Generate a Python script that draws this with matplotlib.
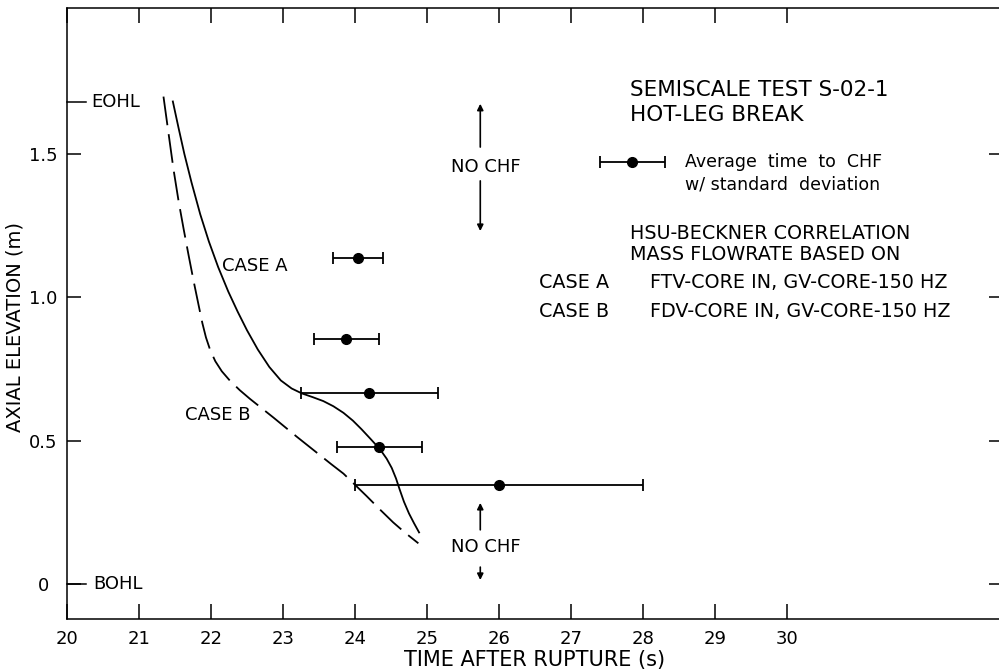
import matplotlib
matplotlib.use('Agg')
import matplotlib.pyplot as plt

plt.rcParams.update({
    'font.family': 'DejaVu Sans',
    'font.size': 13,
    'axes.linewidth': 1.1,
    'xtick.major.width': 1.1,
    'ytick.major.width': 1.1,
})

# ── Hsu-Beckner predictions (time after rupture, elevation) ──────────────
case_a_t = [21.47, 21.55, 21.63, 21.73, 21.85, 21.97, 22.10, 22.24, 22.37,
            22.50, 22.65, 22.81, 22.97, 23.12, 23.26, 23.41, 23.56, 23.70,
            23.84, 23.97, 24.09, 24.22, 24.35, 24.44, 24.51, 24.57, 24.62,
            24.68, 24.75, 24.82, 24.89]
case_a_z = [1.683, 1.590, 1.500, 1.400, 1.290, 1.195, 1.105, 1.020, 0.950,
            0.885, 0.818, 0.757, 0.710, 0.682, 0.665, 0.652, 0.638, 0.620,
            0.597, 0.570, 0.540, 0.505, 0.469, 0.437, 0.405, 0.368, 0.330,
            0.287, 0.246, 0.212, 0.180]

case_b_t = [21.34, 21.41, 21.48, 21.55, 21.62, 21.69, 21.76, 21.83, 21.88,
            21.93, 21.99, 22.06, 22.15, 22.26, 22.40, 22.54, 22.70, 22.87,
            23.03, 23.19, 23.35, 23.51, 23.67, 23.84, 24.00, 24.16, 24.35,
            24.53, 24.70, 24.88]
case_b_z = [1.700, 1.572, 1.445, 1.335, 1.238, 1.145, 1.055, 0.970, 0.910,
            0.860, 0.815, 0.777, 0.742, 0.710, 0.676, 0.646, 0.614, 0.580,
            0.547, 0.514, 0.482, 0.450, 0.418, 0.385, 0.346, 0.307, 0.259,
            0.215, 0.178, 0.142]

# ── Measured average time to CHF with standard deviation ─────────────────
chf_t  = [24.04, 23.88, 24.20, 24.34, 26.00]
chf_sd = [0.35, 0.45, 0.95, 0.59, 2.00]
chf_z  = [1.137, 0.855, 0.665, 0.477, 0.345]

x_ticks = list(range(20, 31))
y_ticks = [0, 0.5, 1.0, 1.5]
y_tick_labels = ['0', '0.5', '1.0', '1.5']
EOHL = 1.68
BOHL = 0.0

fig = plt.figure(figsize=(9.99, 6.71), dpi=100)
ax = fig.add_axes([67 / 999, 1 - 619 / 671, 936 / 999, 611 / 671])
ax.set_xlim(20, 33)
ax.set_ylim(-0.122, 2.009)
ax.spines['right'].set_visible(False)

ax.set_xticks(x_ticks)
ax.set_xticklabels([str(t) for t in x_ticks])
ax.set_yticks(y_ticks)
ax.set_yticklabels(y_tick_labels, ha='center')
ax.tick_params(axis='x', direction='in', top=True, length=11, pad=8,
               labelsize=13)
ax.tick_params(axis='y', direction='in', right=True, length=10, pad=17,
               labelsize=13)

ax.set_xlabel('TIME AFTER RUPTURE (s)', fontsize=15, va='center')
ax.xaxis.set_label_coords(0.499, -0.067)
ax.set_ylabel('AXIAL ELEVATION (m)', fontsize=14, va='center')
ax.yaxis.set_label_coords(-0.0556, 0.478)

# heated length markers
ax.plot([20, 20.26], [EOHL, EOHL], color='k', lw=1.1, clip_on=False)
ax.text(20.33, EOHL, 'EOHL', va='center', ha='left')
ax.plot([20, 20.26], [BOHL, BOHL], color='k', lw=1.1, clip_on=False)
ax.text(20.36, BOHL, 'BOHL', va='center', ha='left')

ax.plot(case_a_t, case_a_z, color='k', lw=1.3)
line_b, = ax.plot(case_b_t, case_b_z, color='k', lw=1.3)
line_b.set_dashes((16, 5))
ax.text(22.15, 1.109, 'CASE A', va='center', ha='left')
ax.text(21.64, 0.590, 'CASE B', va='center', ha='left')

ax.errorbar(chf_t, chf_z, xerr=chf_sd, fmt='o', color='k', ms=7,
            elinewidth=1.3, capsize=4, capthick=1.3)

# no-CHF regions
for z_txt, up, down in [(1.455, (1.524, 1.675), (1.406, 1.231)),
                        (0.129, (0.189, 0.283), (0.059, 0.014))]:
    ax.annotate('', xy=(25.74, up[1]), xytext=(25.74, up[0]),
                arrowprops=dict(arrowstyle='-|>', color='k', lw=1.2,
                                mutation_scale=9, shrinkA=0, shrinkB=0))
    ax.annotate('', xy=(25.74, down[1]), xytext=(25.74, down[0]),
                arrowprops=dict(arrowstyle='-|>', color='k', lw=1.2,
                                mutation_scale=9, shrinkA=0, shrinkB=0))
    ax.text(25.82, z_txt, 'NO CHF', va='center', ha='center')

# key
ax.text(27.82, 1.723, 'SEMISCALE TEST S-02-1', fontsize=15.5, va='center')
ax.text(27.82, 1.636, 'HOT-LEG BREAK', fontsize=15.5, va='center')
ax.errorbar([27.85], [1.472], xerr=[0.45], fmt='o', color='k', ms=7,
            elinewidth=1.3, capsize=4, capthick=1.3)
ax.text(28.58, 1.472, 'Average  time  to  CHF', fontsize=12.5, va='center')
ax.text(28.58, 1.395, 'w/ standard  deviation', fontsize=12.5, va='center')
ax.text(27.82, 1.224, 'HSU-BECKNER CORRELATION', fontsize=13.8, va='center')
ax.text(27.82, 1.148, 'MASS FLOWRATE BASED ON', fontsize=13.8, va='center')
ax.text(26.56, 1.050, 'CASE A', fontsize=13.8, va='center')
ax.text(28.10, 1.050, 'FTV-CORE IN, GV-CORE-150 HZ', fontsize=13.8,
        va='center')
ax.text(26.56, 0.949, 'CASE B', fontsize=13.8, va='center')
ax.text(28.10, 0.949, 'FDV-CORE IN, GV-CORE-150 HZ', fontsize=13.8,
        va='center')

fig.savefig('out.png', dpi=100)
